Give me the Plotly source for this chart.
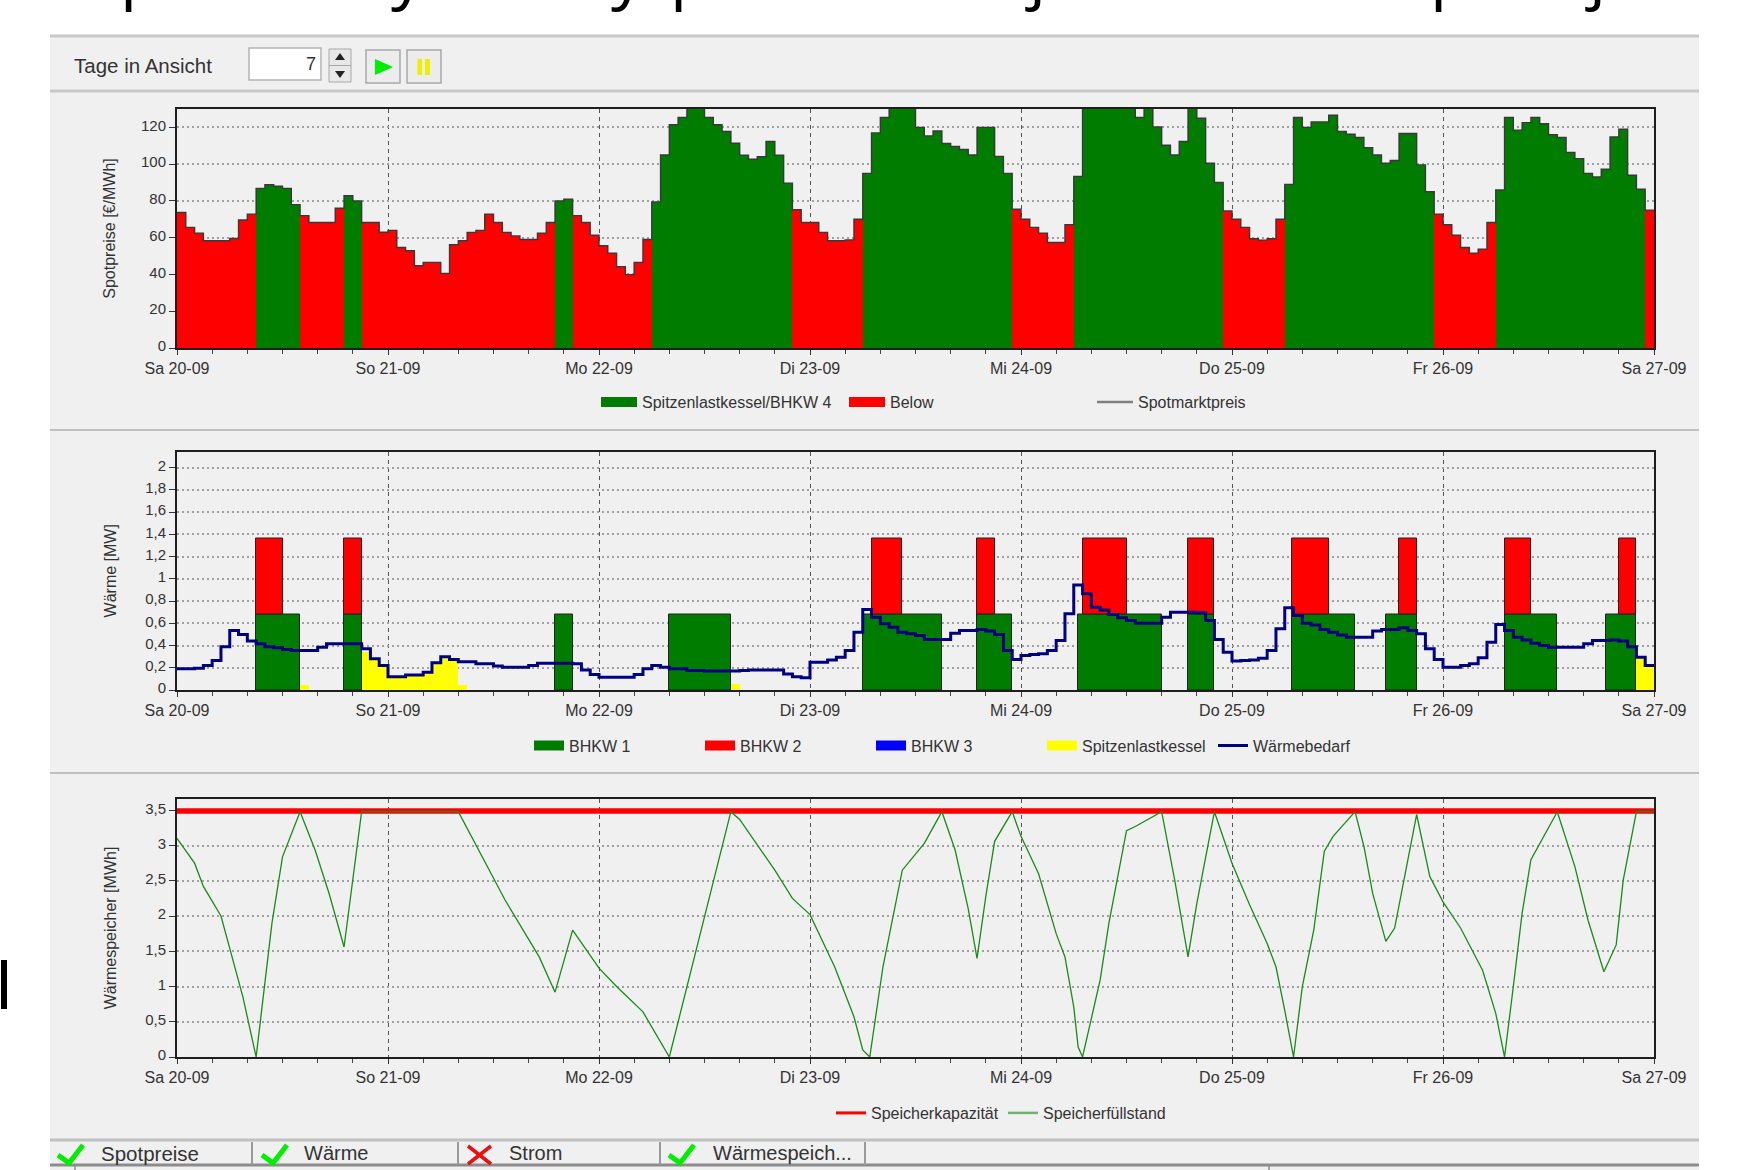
import plotly.graph_objects as go

W, H = 1742, 1170

# ---------- data ----------
day_labels = ["Sa 20-09", "So 21-09", "Mo 22-09", "Di 23-09", "Mi 24-09", "Do 25-09", "Fr 26-09", "Sa 27-09"]
day_hours = [0, 24, 48, 72, 96, 120, 144, 168]

price_d1 = [73.7, 65.6, 62.5, 58.3, 58.3, 58.3, 59.6, 69.6, 72.8, 86.8, 88.8, 88, 86.8, 78, 72, 68.3, 68.3, 68.3, 76, 82.8, 80, 68.3, 68.3, 63]
price_d2 = [64, 54.7, 52.9, 44.7, 46.6, 46.6, 40.6, 56.2, 58.3, 62.9, 64, 72.8, 68.3, 62.9, 61, 59, 59, 62.5, 68.3, 80, 81, 72, 68.3, 61.4]
price_d3 = [55.6, 51.6, 44.2, 39.9, 46.6, 59, 79.5, 105, 121.4, 125.4, 131, 131, 125.4, 121.4, 117.8, 111.4, 104.9, 102.7, 104, 112.3, 104.9, 89.7, 75.2, 68.3]
price_d4 = [68.3, 62.9, 58.3, 58.3, 58.8, 70, 95, 117, 125.4, 131, 131, 131, 120, 115.4, 118, 111.2, 109.6, 108, 105, 120, 120, 104.2, 95, 75.5]
price_d5 = [70, 65.6, 62.5, 57.4, 57.4, 67, 93.3, 131, 131, 131, 131, 131, 131, 125.4, 131, 120.3, 110.3, 105, 112.3, 131, 125, 100.5, 90, 74.6]
price_d6 = [70, 65.6, 59.4, 58.7, 59.4, 70, 89, 125.4, 120, 123, 123, 126.6, 117.8, 116.3, 114.5, 109, 105, 100.5, 102, 116.7, 116.7, 99.6, 85, 72.8]
price_d7 = [67, 61.4, 54.7, 51.6, 53.8, 68.3, 86, 125.4, 118.5, 122.6, 125.4, 122, 116, 114.5, 106.3, 103, 95, 93, 97.3, 114.8, 119, 94, 86.4, 75]
price = price_d1 + price_d2 + price_d3 + price_d4 + price_d5 + price_d6 + price_d7
peak_start = [9, 19, 43, 54, 78, 102, 126, 150]
peak_end = [14, 21, 45, 70, 95, 119, 143, 167]

bhkw1_start = [9, 19, 43, 56, 78, 91, 102.5, 115, 126.8, 137.5, 151, 162.5]
bhkw1_end = [14, 21, 45, 63, 87, 95, 112, 118, 134, 141, 157, 166]
bhkw1_level = 0.68
bhkw2_start = [9, 19, 79, 91, 103, 115, 126.8, 139, 151, 164]
bhkw2_end = [12, 21, 82.5, 93, 108, 118, 131, 141, 154, 166]
bhkw2_level = 0.68
boiler_hours = [14, 21, 22, 23, 24, 25, 26, 27, 28, 29, 30, 31, 32, 63, 166, 167]
boiler_values = [0.05, 0.35, 0.28, 0.22, 0.12, 0.12, 0.135, 0.135, 0.16, 0.245, 0.30, 0.275, 0.05, 0.06, 0.28, 0.23]

demand_d1 = [.19, .19, .195, .22, .265, .39, .535, .50, .44, .415, .39, .38, .365, .355, .355, .355, .385, .415, .415, .415, .415, .37, .28, .22]
demand_d2 = [.12, .12, .135, .135, .16, .245, .30, .275, .255, .255, .235, .235, .215, .205, .205, .205, .22, .24, .24, .24, .24, .235, .18, .14]
demand_d3 = [.115, .115, .115, .115, .14, .19, .22, .205, .19, .19, .175, .175, .17, .17, .17, .17, .175, .18, .18, .18, .18, .145, .12, .11]
demand_d4 = [.25, .25, .27, .295, .355, .52, .725, .655, .595, .565, .52, .505, .49, .455, .455, .455, .51, .535, .535, .545, .53, .5, .355, .275]
demand_d5 = [.31, .32, .325, .355, .445, .685, .945, .865, .745, .72, .68, .65, .625, .6, .6, .6, .655, .70, .70, .70, .695, .625, .455, .34]
demand_d6 = [.26, .265, .27, .285, .355, .55, .74, .67, .60, .585, .545, .52, .495, .475, .475, .475, .53, .545, .545, .56, .535, .505, .37, .275]
demand_d7 = [.205, .205, .22, .235, .29, .43, .59, .535, .475, .45, .42, .40, .385, .385, .385, .385, .415, .445, .445, .45, .44, .39, .295, .22]
demand = demand_d1 + demand_d2 + demand_d3 + demand_d4 + demand_d5 + demand_d6 + demand_d7

store_hours = [0, 2, 3, 5, 6, 7.5, 9, 10.8, 12, 14, 15.7, 17.3, 19, 21, 32, 35.3, 37.3, 41.2, 43, 45, 48, 50, 53, 56, 63, 64, 68, 70, 72, 74.8, 75.7, 77, 78,
               78.8, 80.3, 82.5, 85, 87, 88.5, 90, 91, 92, 93, 95, 96, 98, 100, 101, 102, 102.5, 103, 105, 106, 108, 109, 112, 113.5, 115, 116, 118,
               120, 122, 124, 125, 126, 127, 128, 129.3, 130.5, 131.5, 134, 135, 136, 137.5, 138.5, 139.7, 141, 142.5, 144, 146, 148.5, 150, 151,
               152, 153, 154, 157, 159, 160.5, 162.3, 163.7, 164.5, 166, 168]
store_level = [3.1, 2.75, 2.42, 2.0, 1.54, .85, 0, 1.9, 2.84, 3.48, 2.94, 2.32, 1.56, 3.48, 3.48, 2.7, 2.23, 1.42, .92, 1.8, 1.26, 1.0, .64, 0, 3.48, 3.37, 2.65, 2.25, 2.02, 1.28, 1.0, .57, .1,
               0, 1.28, 2.65, 3.03, 3.48, 2.94, 2.1, 1.4, 2.28, 3.06, 3.48, 3.13, 2.6, 1.75, 1.42, .71, .14, 0, 1.09, 1.9, 3.21, 3.27, 3.48, 2.5, 1.42, 2.18, 3.48,
               2.75, 2.16, 1.61, 1.28, .66, 0, 1.0, 1.8, 2.92, 3.13, 3.48, 2.99, 2.32, 1.64, 1.83, 2.6, 3.44, 2.56, 2.2, 1.83, 1.23, .62, 0,
               1.0, 2.04, 2.8, 3.48, 2.7, 1.94, 1.21, 1.59, 2.51, 3.48, 3.48]
capacity = [3.49, 3.49]
capacity_hours = [0, 168]

assert len(price) == 168 and len(demand) == 168 and len(store_hours) == len(store_level), (len(price), len(demand), len(store_hours), len(store_level))

green = [None] * 168
red = list(price)
for s, e in zip(peak_start, peak_end):
    for h in range(s, e):
        green[h] = price[h]
        red[h] = None
hours = list(range(168))

# ---------- layout helpers (pixel -> paper) ----------
def px(x): return x / W
def py(y): return 1 - y / H

shapes, annos = [], []
def rect(x0, y0, x1, y1, fill=None, line=None, lw=1):
    shapes.append(dict(type="rect", xref="paper", yref="paper", x0=px(x0), x1=px(x1), y0=py(y0), y1=py(y1),
                       fillcolor=fill, line=dict(color=line, width=lw if line else 0), layer="below"))
def hline(x0, x1, y, color, lw):
    shapes.append(dict(type="line", xref="paper", yref="paper", x0=px(x0), x1=px(x1), y0=py(y), y1=py(y),
                       line=dict(color=color, width=lw), layer="below"))
def vline(x, y0, y1, color, lw):
    shapes.append(dict(type="line", xref="paper", yref="paper", x0=px(x), x1=px(x), y0=py(y0), y1=py(y1),
                       line=dict(color=color, width=lw), layer="below"))
def poly(points, fill=None, line=None, lw=0, close=True):
    d = "M" + " L".join(f"{px(a):.5f},{py(b):.5f}" for a, b in points) + (" Z" if close else "")
    shapes.append(dict(type="path", xref="paper", yref="paper", path=d, fillcolor=fill,
                       line=dict(color=line, width=lw), layer="below"))
def text(x, y, s, size, color="#333333", anchor="left", family="Liberation Sans", yanchor="middle"):
    annos.append(dict(xref="paper", yref="paper", x=px(x), y=py(y), text=s, showarrow=False, xanchor=anchor,
                      yanchor=yanchor, font=dict(family=family, size=size, color=color), borderpad=0, borderwidth=0))

PANEL = "#f0f0f0"
rect(50, 36, 1699, 1170, fill=PANEL)
for y, c, lw in [(36, "#c8c8c8", 3), (91, "#c8c8c8", 3), (430, "#c0c0c0", 2), (773, "#c0c0c0", 2), (1140, "#c0c0c0", 3), (1165, "#8c8c8c", 3)]:
    hline(50, 1699, y, c, lw)

# toolbar
text(74, 65.5, "Tage in Ansicht", 20.5)
rect(249, 48, 321, 80, fill="#ffffff", line="#b4b4b4", lw=1.5)
text(316, 64, "7", 18, anchor="right")
rect(329, 49, 351, 82, fill="#e8e8e8", line="#a8a8a8", lw=1)
hline(329, 351, 65.5, "#a8a8a8", 1)
poly([(335, 60), (345, 60), (340, 53)], fill="#222222")
poly([(335, 71), (345, 71), (340, 78)], fill="#222222")
rect(366, 50, 400, 83, fill="#ececec", line="#a8a8a8", lw=1.5)
poly([(375, 59), (375, 75), (393, 67)], fill="#00ee00")
rect(407, 50, 441, 83, fill="#ececec", line="#a8a8a8", lw=1.5)
rect(417.5, 59, 422, 75, fill="#eeee00")
rect(425, 59, 430, 75, fill="#eeee00")

# bottom tabs
for x in [252, 458, 660, 865]:
    vline(x, 1142, 1165, "#9a9a9a", 2)
vline(75, 1165, 1170, "#8c8c8c", 1.5)
vline(1269, 1165, 1170, "#8c8c8c", 1.5)
for x0 in [58, 262, 669]:
    poly([(x0, 1155), (x0 + 11, 1163), (x0 + 25, 1145)], line="#00ee00", lw=5, close=False)
shapes.append(dict(type="line", xref="paper", yref="paper", x0=px(468), x1=px(491), y0=py(1146), y1=py(1164), line=dict(color="#e81010", width=3.5), layer="below"))
shapes.append(dict(type="line", xref="paper", yref="paper", x0=px(491), x1=px(468), y0=py(1146), y1=py(1164), line=dict(color="#e81010", width=3.5), layer="below"))
text(101, 1153, "Spotpreise", 20.5)
text(304, 1153, "Wärme", 20)
text(509, 1153, "Strom", 20)
text(713, 1153, "Wärmespeich...", 20)

# page fragments outside the screenshot
for x, g in [(141, "p"), (408, "y"), (628, "y"), (691, "p"), (1035, "j"), (1451, "p"), (1595, "j")]:
    text(x, 16, g, 68, color="#000000", anchor="center", family="Open Sans", yanchor="bottom")
rect(1, 960, 7, 1009, fill="#000000")

# ---------- traces ----------
fig = go.Figure()
OUT = "#222222"
fig.add_trace(go.Bar(x=hours, y=green, width=1, offset=0, marker=dict(color="#007d00", line=dict(width=0)), name="Spitzenlastkessel/BHKW 4", showlegend=False, xaxis="x", yaxis="y"))
fig.add_trace(go.Bar(x=hours, y=red, width=1, offset=0, marker=dict(color="#ff0000", line=dict(width=0)), name="Below", showlegend=False, xaxis="x", yaxis="y"))
fig.add_trace(go.Scatter(x=hours + [168], y=price + [price[-1]], mode="lines", line=dict(color="#383838", width=1.4, shape="hv"), name="Spotmarktpreis", showlegend=False, xaxis="x", yaxis="y"))

def widths(a, b): return [q - p for p, q in zip(a, b)]
fig.add_trace(go.Bar(x=bhkw1_start, y=[bhkw1_level] * len(bhkw1_start), width=widths(bhkw1_start, bhkw1_end), offset=0,
                     marker=dict(color="#007d00", line=dict(width=1, color=OUT)), name="BHKW 1", showlegend=False, xaxis="x2", yaxis="y2"))
fig.add_trace(go.Bar(x=bhkw2_start, y=[bhkw2_level] * len(bhkw2_start), base=bhkw1_level, width=widths(bhkw2_start, bhkw2_end), offset=0,
                     marker=dict(color="#ff0000", line=dict(width=1, color=OUT)), name="BHKW 2", showlegend=False, xaxis="x2", yaxis="y2"))
fig.add_trace(go.Bar(x=boiler_hours, y=boiler_values, width=1, offset=0,
                     marker=dict(color="#ffff00", line=dict(width=0)), name="Spitzenlastkessel", showlegend=False, xaxis="x2", yaxis="y2"))
fig.add_trace(go.Scatter(x=hours + [168], y=demand + [demand[-1]], mode="lines", line=dict(color="#000080", width=3, shape="hv"), name="Wärmebedarf", showlegend=False, xaxis="x2", yaxis="y2"))

fig.add_trace(go.Scatter(x=capacity_hours, y=capacity, mode="lines", line=dict(color="#ff0000", width=5.5), name="Speicherkapazität", showlegend=False, xaxis="x3", yaxis="y3"))
fig.add_trace(go.Scatter(x=store_hours, y=store_level, mode="lines", line=dict(color="#1a8a1a", width=1.3), name="Speicherfüllstand", showlegend=False, xaxis="x3", yaxis="y3"))

def legend_entry(name, color, lw, legend, xa, ya):
    fig.add_trace(go.Scatter(x=[None], y=[None], mode="lines", line=dict(color=color, width=lw), name=name,
                             legend=legend, xaxis=xa, yaxis=ya, hoverinfo="skip"))
legend_entry("Spitzenlastkessel/BHKW 4", "#007d00", 14, "legend", "x", "y")
legend_entry("Below", "#ff0000", 14, "legend", "x", "y")
legend_entry("Spotmarktpreis", "#808080", 2.5, "legend", "x", "y")
legend_entry("BHKW 1", "#007d00", 14, "legend2", "x2", "y2")
legend_entry("BHKW 2", "#ff0000", 14, "legend2", "x2", "y2")
legend_entry("BHKW 3", "#0000ff", 14, "legend2", "x2", "y2")
legend_entry("Spitzenlastkessel", "#ffff00", 14, "legend2", "x2", "y2")
legend_entry("Wärmebedarf", "#000080", 3, "legend2", "x2", "y2")
legend_entry("Speicherkapazität", "#ff0000", 3, "legend3", "x3", "y3")
legend_entry("Speicherfüllstand", "#6cb46c", 2.5, "legend3", "x3", "y3")

# ---------- axes ----------
FONT = "Liberation Sans"
x_dom = [px(177), px(1654)]
def xaxis(anchor):
    return dict(domain=x_dom, range=[0, 168], anchor=anchor, tickmode="array", tickvals=day_hours, ticktext=day_labels,
                ticks="outside", ticklen=5, tickwidth=1, tickcolor="#333333", showgrid=True, gridcolor="#555555", gridwidth=1,
                griddash="4px,4px", showline=True, linecolor="#1e1e1e", linewidth=2, mirror=True, zeroline=False,
                tickfont=dict(family=FONT, size=16, color="#333333"),
                minor=dict(tickmode="linear", tick0=0, dtick=4, ticks="outside", ticklen=4, tickcolor="#444444", showgrid=False))
def yaxis(anchor, top, bottom, rng, dtick, title, standoff):
    return dict(domain=[py(bottom), py(top)], range=rng, anchor=anchor, dtick=dtick, tick0=0, ticks="outside", ticklen=6,
                tickcolor="#333333", showgrid=True, gridcolor="#a0a0a0", gridwidth=1.6, griddash="2px,3px",
                showline=True, linecolor="#1e1e1e", linewidth=2, mirror=True, zeroline=False, ticklabelshift=-2,
                tickfont=dict(family=FONT, size=15, color="#333333"),
                title=dict(text=title, standoff=standoff, font=dict(family=FONT, size=16, color="#333333")))

def legend_cfg(x, y, entry, item):
    return dict(orientation="h", x=px(x), y=py(y), xanchor="left", yanchor="middle", bgcolor="rgba(0,0,0,0)",
                entrywidth=entry, entrywidthmode="pixels", itemwidth=item, font=dict(family=FONT, size=16, color="#333333"),
                itemclick=False, itemdoubleclick=False, tracegroupgap=0)

fig.update_layout(
    width=W, height=H, autosize=False, margin=dict(l=0, r=0, t=0, b=0, autoexpand=False),
    paper_bgcolor="#ffffff", plot_bgcolor="rgba(0,0,0,0)", barmode="overlay", bargap=0,
    separators=",.", shapes=shapes, annotations=annos, hovermode=False,
    xaxis=xaxis("y"), xaxis2=xaxis("y2"), xaxis3=xaxis("y3"),
    yaxis=yaxis("x", 109, 348, [0, 130], 20, "Spotpreise [€/MWh]", 21),
    yaxis2=yaxis("x2", 451.5, 690, [0, 2.145], 0.2, "Wärme [MW]", 25),
    yaxis3=yaxis("x3", 799, 1057, [0, 3.66], 0.5, "Wärmespeicher [MWh]", 25),
    legend=legend_cfg(596, 402, 197, 36),
    legend2=legend_cfg(529, 745.5, 126, 30),
    legend3=legend_cfg(831, 1113, 127, 30),
)
fig.write_html("out.html", config=dict(displayModeBar=False),
               post_script="document.body.style.margin='0';document.body.style.overflow='hidden';")
